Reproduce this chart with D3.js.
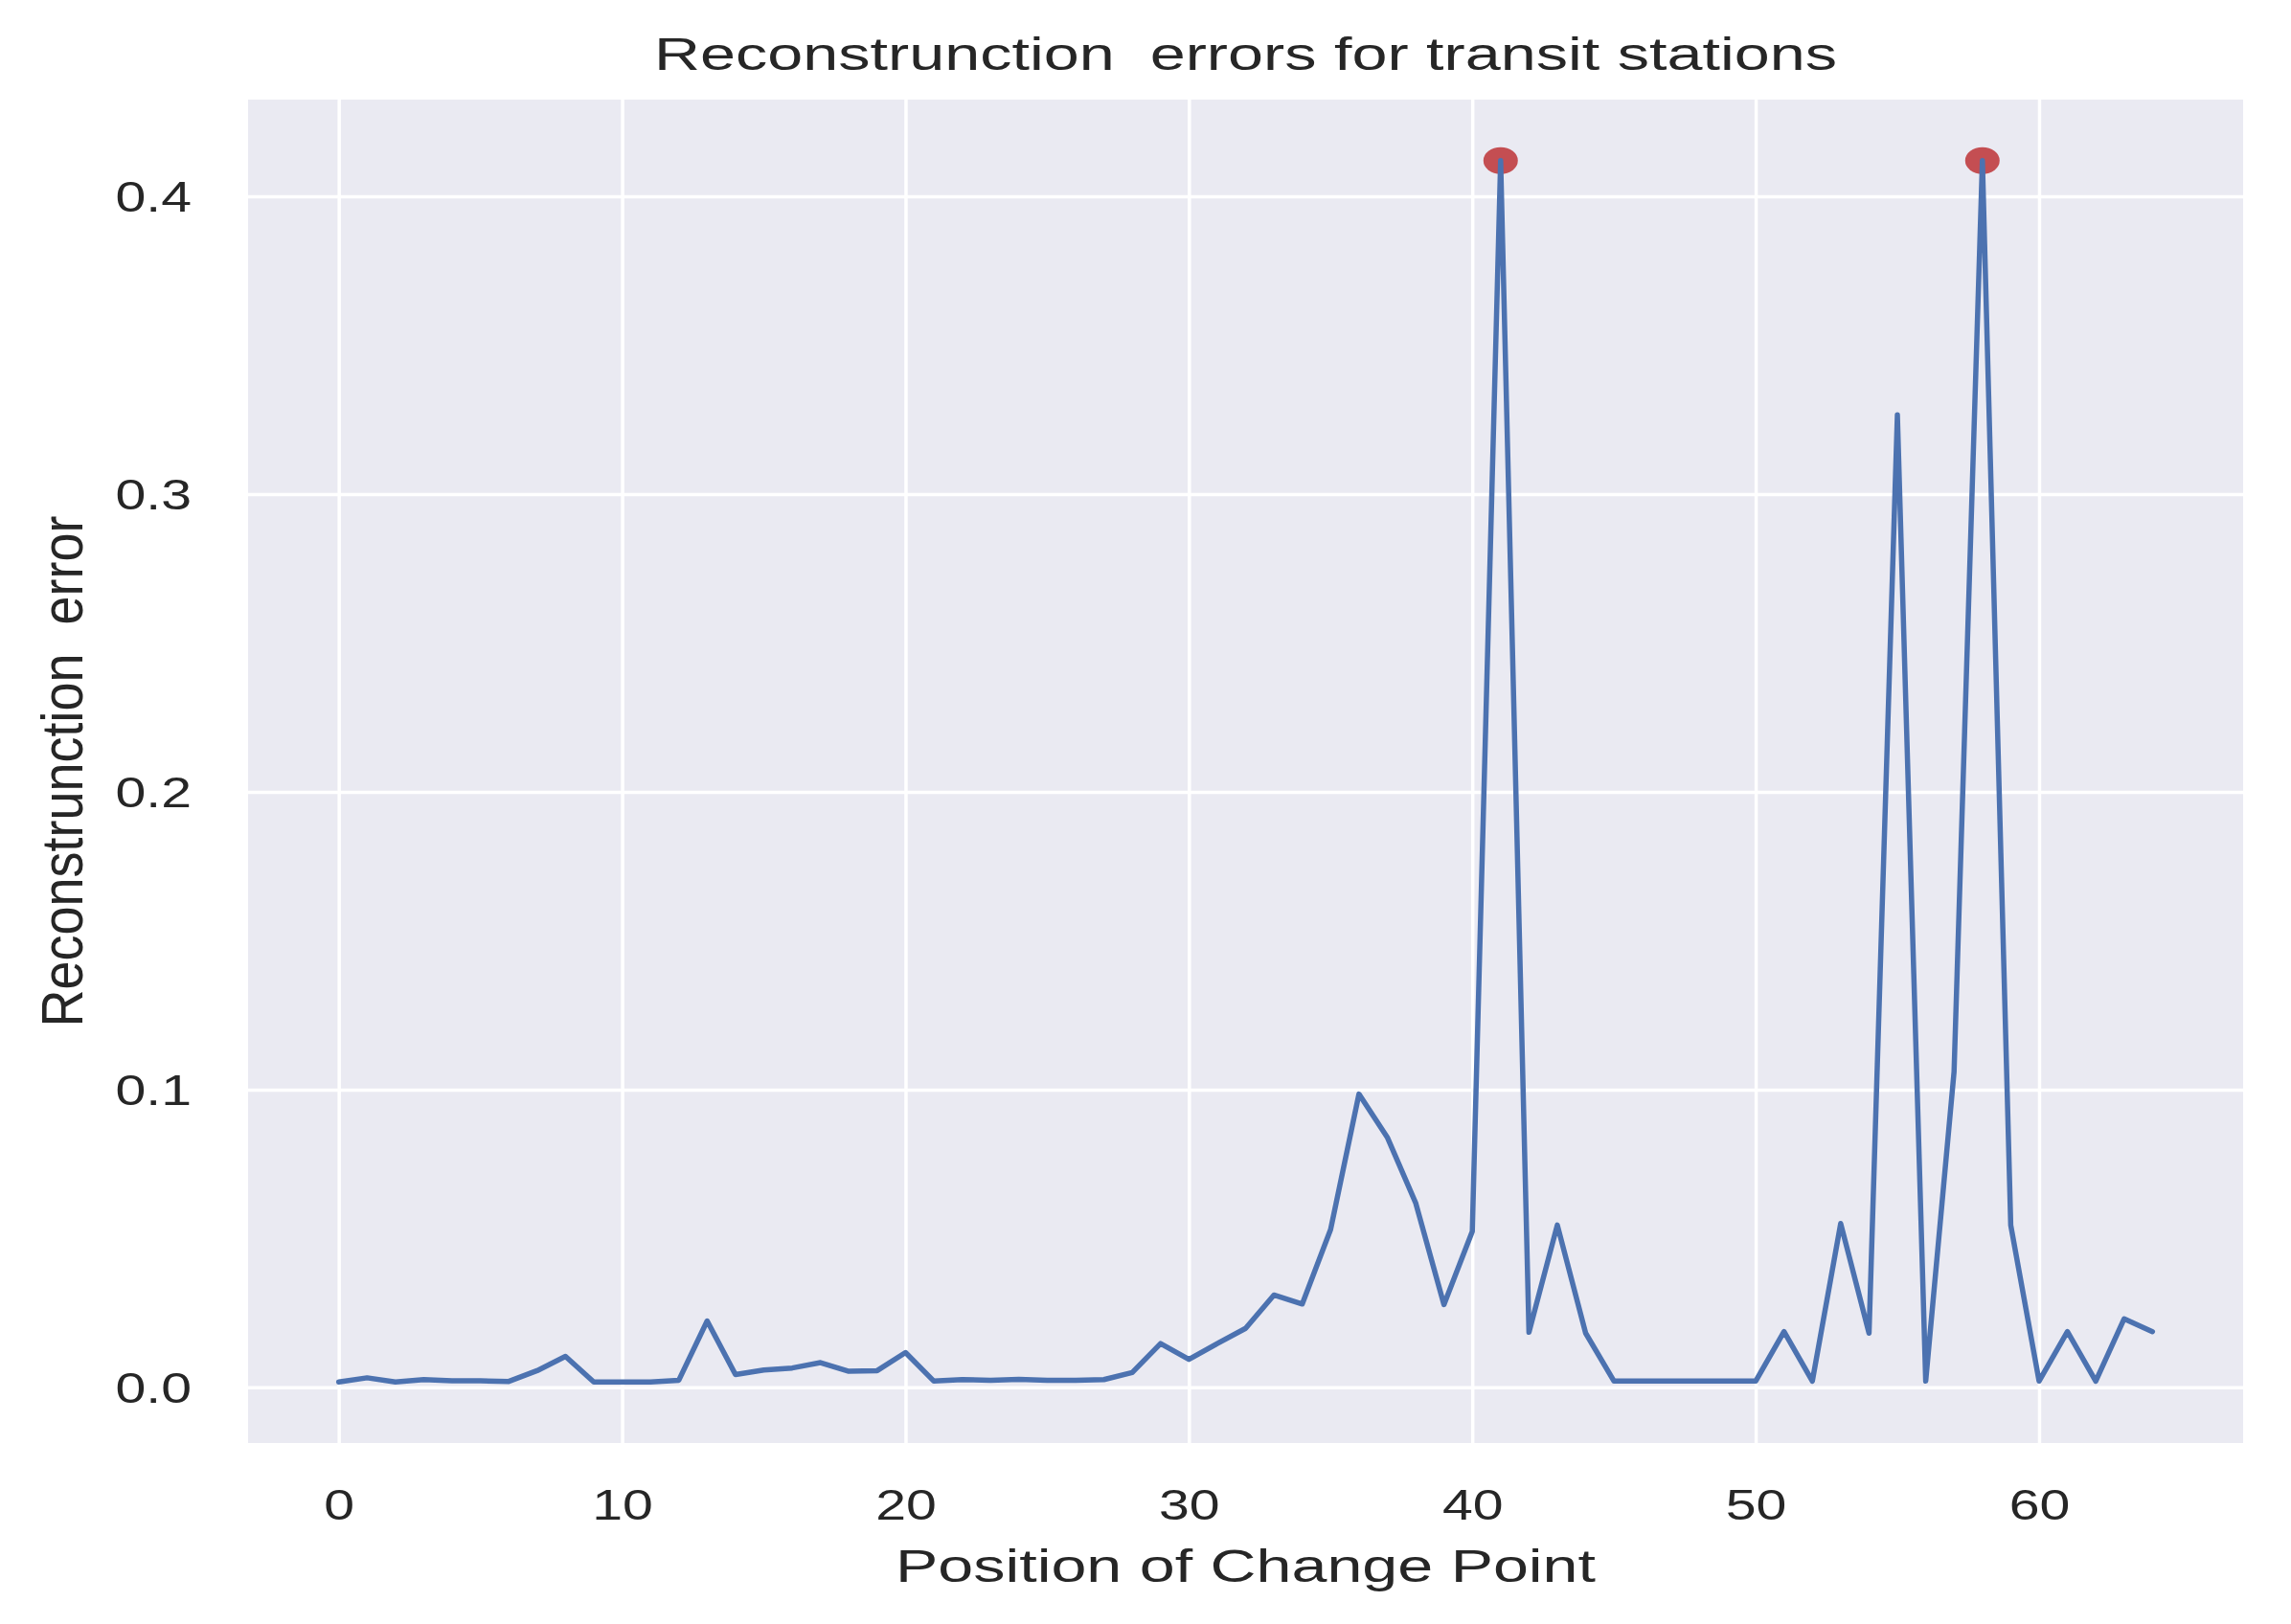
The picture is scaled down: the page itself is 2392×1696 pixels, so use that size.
<!DOCTYPE html>
<html>
<head>
<meta charset="utf-8">
<script src="https://cdn.jsdelivr.net/npm/d3@7"></script>
<style>
  html, body { margin: 0; padding: 0; background: #ffffff; }
  svg { display: block; }
  text { font-family: "Liberation Sans", Arial, Helvetica, sans-serif; fill: #262626; white-space: pre; }
</style>
</head>
<body>
<svg id="chart" width="2392" height="1696"></svg>
<script>
// ---- data ----
const positions = [0,1,2,3,4,5,6,7,8,9,10,11,12,13,14,15,16,17,18,19,20,21,22,23,24,25,26,27,28,29,30,31,32,33,34,35,36,37,38,39,40,41,42,43,44,45,46,47,48,49,50,51,52,53,54,55,56,57,58,59,60,61,62,63,64];
const errors = [
  0.0018, 0.0032, 0.0018, 0.0026, 0.0022, 0.0022, 0.0020, 0.0056, 0.0104, 0.0018,
  0.0018, 0.0018, 0.0024, 0.0223, 0.0043, 0.0058, 0.0065, 0.0083, 0.0054, 0.0056,
  0.0117, 0.0021, 0.0026, 0.0024, 0.0027, 0.0024, 0.0024, 0.0026, 0.0050, 0.0147,
  0.0094, 0.0147, 0.0198, 0.0310, 0.0280, 0.0530, 0.0985, 0.0840, 0.0620, 0.0278,
  0.0524, 0.4120, 0.0185, 0.0545, 0.0182, 0.0021, 0.0021, 0.0021, 0.0021, 0.0021,
  0.0021, 0.0187, 0.0021, 0.0550, 0.0182, 0.3266, 0.0021, 0.1060, 0.4120, 0.0545,
  0.0021, 0.0187, 0.0021, 0.0230, 0.0187
];
const highlightPositions = [41, 58];
const highlightErrors = [0.4120, 0.4120];
const xTicks = [0, 10, 20, 30, 40, 50, 60];
const xTickLabels = ["0", "10", "20", "30", "40", "50", "60"];
const yTicks = [0.0, 0.1, 0.2, 0.3, 0.4];
const yTickLabels = ["0.0", "0.1", "0.2", "0.3", "0.4"];
const titleText = "Reconstrunction  errors for transit stations";
const xLabelText = "Position of Change Point";
const yLabelText = "Reconstrunction  error";

// ---- layout ----
const plot = { left: 259, right: 2342, top: 104, bottom: 1507 };
const STRETCH = 1.3;

const svg = d3.select("#chart");

const x = d3.scaleLinear().domain([-3.2, 67.2]).range([plot.left, plot.right]);
const y = d3.scaleLinear().domain([-0.0187, 0.4325]).range([plot.bottom, plot.top]);

// background
svg.append("rect")
  .attr("x", plot.left).attr("y", plot.top)
  .attr("width", plot.right - plot.left).attr("height", plot.bottom - plot.top)
  .attr("fill", "#EAEAF2");

// grid via axes
const xGrid = svg.append("g")
  .attr("transform", `translate(0,${plot.bottom})`)
  .call(d3.axisBottom(x).tickValues(xTicks).tickSize(-(plot.bottom - plot.top)).tickFormat(""));
xGrid.select(".domain").remove();
xGrid.selectAll("line").attr("stroke", "#ffffff").attr("stroke-width", 3.5);

const yGrid = svg.append("g")
  .attr("transform", `translate(${plot.left},0)`)
  .call(d3.axisLeft(y).tickValues(yTicks).tickSize(-(plot.right - plot.left)).tickFormat(""));
yGrid.select(".domain").remove();
yGrid.selectAll("line").attr("stroke", "#ffffff").attr("stroke-width", 3.5);

function stretchText(sel, factor) {
  sel.each(function() {
    const n = this.getComputedTextLength();
    d3.select(this).attr("textLength", n * factor).attr("lengthAdjust", "spacingAndGlyphs");
  });
}

// tick labels (axes)
const xAxis = svg.append("g")
  .attr("transform", `translate(0,${plot.bottom})`)
  .call(d3.axisBottom(x).tickValues(xTicks).tickSize(0).tickPadding(80)
        .tickFormat((d, i) => xTickLabels[i]));
xAxis.select(".domain").remove();
xAxis.selectAll("text")
  .attr("font-size", 44).attr("fill", "#262626")
  .attr("font-family", "Liberation Sans, Arial, sans-serif")
  .attr("dy", 0);
stretchText(xAxis.selectAll("text"), STRETCH);

const yAxis = svg.append("g")
  .attr("transform", `translate(${plot.left},0)`)
  .call(d3.axisLeft(y).tickValues(yTicks).tickSize(0).tickPadding(59)
        .tickFormat((d, i) => yTickLabels[i]));
yAxis.select(".domain").remove();
yAxis.selectAll("text")
  .attr("font-size", 44).attr("fill", "#262626")
  .attr("font-family", "Liberation Sans, Arial, sans-serif")
  .attr("dy", "0.36em");
stretchText(yAxis.selectAll("text"), STRETCH);

// highlighted points (under line)
svg.append("g").selectAll("ellipse")
  .data(highlightPositions.map((p, i) => ({ p, e: highlightErrors[i] })))
  .join("ellipse")
  .attr("cx", d => x(d.p)).attr("cy", d => y(d.e))
  .attr("rx", 18).attr("ry", 14)
  .attr("fill", "#C44E52");

// line
const line = d3.line().x((d, i) => x(positions[i])).y(d => y(d));
svg.append("path")
  .datum(errors)
  .attr("d", line)
  .attr("fill", "none")
  .attr("stroke", "#4C72B0")
  .attr("stroke-width", 5.5)
  .attr("stroke-linejoin", "round")
  .attr("stroke-linecap", "round");

// title
svg.append("text")
  .attr("x", (plot.left + plot.right) / 2).attr("y", 73)
  .attr("text-anchor", "middle").attr("font-size", 49)
  .attr("textLength", 1235).attr("lengthAdjust", "spacingAndGlyphs")
  .text(titleText);

// x label
svg.append("text")
  .attr("x", (plot.left + plot.right) / 2).attr("y", 1652)
  .attr("text-anchor", "middle").attr("font-size", 49)
  .attr("textLength", 731).attr("lengthAdjust", "spacingAndGlyphs")
  .text(xLabelText);

// y label
svg.append("text")
  .attr("transform", `translate(86,${(plot.top + plot.bottom) / 2}) rotate(-90) scale(1,1.3)`)
  .attr("text-anchor", "middle").attr("font-size", 47)
  .attr("textLength", 534).attr("lengthAdjust", "spacingAndGlyphs")
  .text(yLabelText);
</script>
</body>
</html>
